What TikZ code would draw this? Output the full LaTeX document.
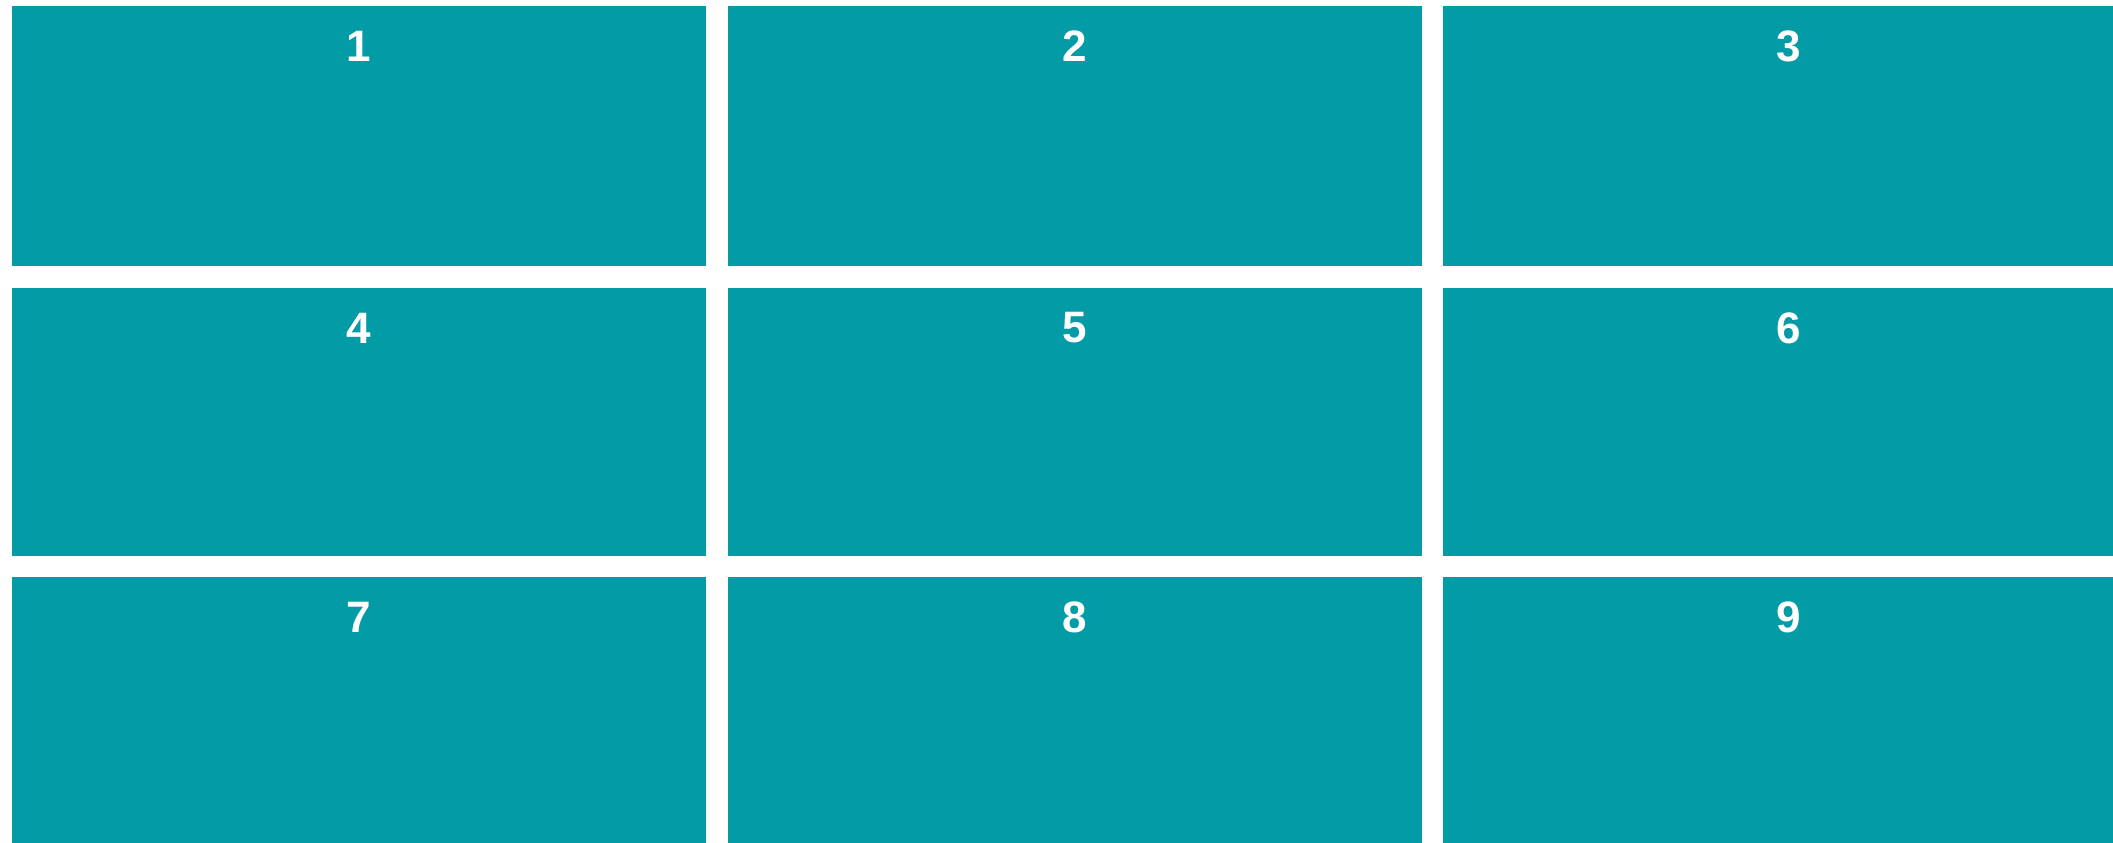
\documentclass[tikz,border=0pt]{standalone}
\usepackage{fontspec}
\setmainfont{Liberation Sans}
\definecolor{teal1}{HTML}{039BA5}
\begin{document}
\begin{tikzpicture}[x=1pt,y=-1pt,
  cell/.style={fill=teal1,draw=none,inner sep=0pt,anchor=north west,minimum width=694pt,minimum height=268pt},
  num/.style={text=white,font=\fontsize{44}{46}\selectfont\bfseries,inner sep=0pt,anchor=center}]
\fill[white] (0,0) rectangle (2113,843);
\useasboundingbox (0,0) rectangle (2113,843);
\clip (0,0) rectangle (2113,843);
\node[cell,minimum height=260pt] (b1) at (12,6) {};
\node[cell,minimum height=260pt] (b2) at (728,6) {};
\node[cell,minimum height=260pt] (b3) at (1443,6) {};
\node[cell] (b4) at (12,288) {};
\node[cell] (b5) at (728,288) {};
\node[cell] (b6) at (1443,288) {};
\node[cell] (b7) at (12,577) {};
\node[cell] (b8) at (728,577) {};
\node[cell] (b9) at (1443,577) {};
\foreach \i/\c in {1/b1,2/b2,4/b4,5/b5,7/b7,8/b8}{
  \node[num] (n\i) at ([yshift=-40pt]\c.north) {\i};
}
\node[num] (n3) at (1789,46) {3};
\node[num] (n6) at (1789,328) {6};
\node[num] (n9) at (1789,617) {9};
\end{tikzpicture}
\end{document}
